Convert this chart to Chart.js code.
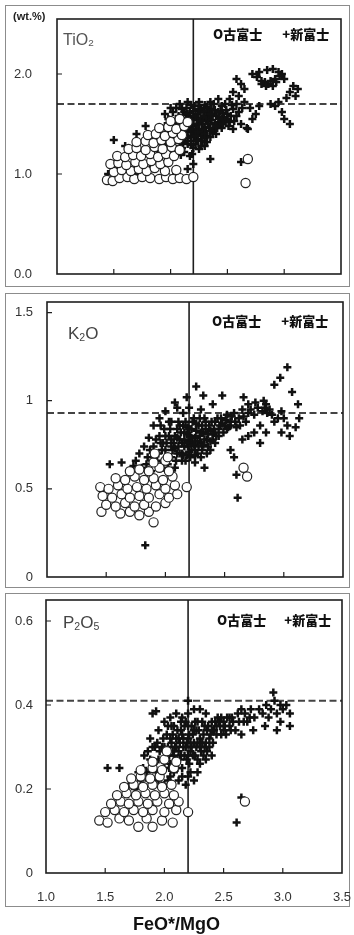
<!DOCTYPE html>
<html>
<head>
<meta charset="utf-8">
<script src="https://cdn.jsdelivr.net/npm/chart.js@4.4.1/dist/chart.umd.min.js"></script>
<style>
  body { margin: 0; background: #fff; width: 354px; height: 935px; position: relative; overflow: hidden; font-family: "Liberation Sans", Arial, sans-serif; }
  .frame { position: absolute; left: 5px; width: 345px; border: 1.5px solid #8c8c8c; box-sizing: border-box; }
  canvas { position: absolute; left: 0; }
  .lbl { position: absolute; color: #555; white-space: nowrap; line-height: 1; }
  .lbl sub { font-size: 0.62em; vertical-align: -0.15em; }
  .leg { position: absolute; font: 900 13px "Noto Sans CJK JP", sans-serif; color: #111; white-space: nowrap; line-height: 1; }
  .leg span { display: inline-block; }
</style>
</head>
<body>
<div class="frame" style="top:5px;height:282px"></div>
<div class="frame" style="top:293px;height:295px"></div>
<div class="frame" style="top:593px;height:314px"></div>

<canvas id="c1" width="354" height="290" style="top:0"></canvas>
<canvas id="c2" width="354" height="300" style="top:290px"></canvas>
<canvas id="c3" width="354" height="345" style="top:590px"></canvas>

<div class="lbl" style="left:13px;top:10px;font:bold 11px 'Liberation Sans',Arial;color:#222">(wt.%)</div>
<div class="lbl" style="left:63px;top:32px;font-size:16px">TiO<sub>2</sub></div>
<div class="lbl" style="left:68px;top:325px;font-size:17px;color:#444">K<sub>2</sub>O</div>
<div class="lbl" style="left:63px;top:614px;font-size:17px;color:#444">P<sub>2</sub>O<sub>5</sub></div>

<div class="leg" style="left:213px;top:27px">O古富士<span style="width:20px"></span>+新富士</div>
<div class="leg" style="left:212px;top:314px">O古富士<span style="width:20px"></span>+新富士</div>
<div class="leg" style="left:217px;top:613px">O古富士<span style="width:18px"></span>+新富士</div>

<div class="lbl" style="left:133px;top:914px;font:bold 18px 'Liberation Sans',Arial;color:#111">FeO*/MgO</div>

<script>
// x axis (FeO*/MgO), shared by the three panels
const xTicks = [1.0, 1.5, 2.0, 2.5, 3.0, 3.5];
const xLabels = ['1.0', '1.5', '2.0', '2.5', '3.0', '3.5'];
const xMarks = [1.5, 2.0, 2.5, 3.0];
const splitX = 2.2;

// TiO2 panel
const tiTicks = [0, 1, 2];
const tiLabels = ['0.0', '1.0', '2.0'];
const tiMax = 2.55;
const tiDash = 1.7;
const tiOld = [
  [1.44,0.94],[1.49,0.93],[1.55,0.96],[1.62,0.97],[1.68,0.95],[1.75,0.97],[1.82,0.96],[1.9,0.95],[1.96,0.97],[2.02,0.95],[2.08,0.96],[2.14,0.95],[2.2,0.97],
  [1.5,1.02],[1.57,1.04],[1.65,1.03],[1.72,1.05],[1.79,1.03],[1.86,1.06],[1.95,1.03],[2.05,1.04],
  [1.47,1.1],[1.54,1.11],[1.61,1.09],[1.69,1.12],[1.76,1.1],[1.83,1.13],[1.91,1.1],[1.98,1.12],
  [1.53,1.18],[1.6,1.17],[1.67,1.19],[1.74,1.18],[1.82,1.2],[1.89,1.17],[1.96,1.2],[2.03,1.18],
  [1.63,1.25],[1.7,1.26],[1.78,1.24],[1.86,1.27],[1.93,1.25],[2.01,1.27],[2.08,1.24],
  [1.7,1.32],[1.78,1.33],[1.85,1.31],[1.92,1.34],[2.0,1.32],[2.07,1.35],
  [1.8,1.39],[1.87,1.4],[1.95,1.38],[2.02,1.41],[2.1,1.39],
  [1.9,1.46],[1.98,1.47],[2.05,1.45],[2.12,1.48],
  [2.0,1.53],[2.08,1.55],[2.15,1.52],
  [2.68,1.15],[2.66,0.91]
];
const tiNew = [
  [2.0,1.45],[2.03,1.52],[2.05,1.4],[2.07,1.58],[2.1,1.47],[2.1,1.36],[2.12,1.62],[2.13,1.53],[2.15,1.42],[2.16,1.57],
  [2.18,1.48],[2.18,1.38],[2.2,1.63],[2.2,1.54],[2.22,1.45],[2.23,1.35],[2.24,1.6],[2.25,1.5],[2.26,1.41],[2.27,1.66],
  [2.28,1.55],[2.3,1.47],[2.3,1.62],[2.32,1.38],[2.33,1.56],[2.35,1.5],[2.36,1.65],[2.38,1.44],[2.4,1.58],[2.42,1.52],
  [2.44,1.63],[2.45,1.46],[2.47,1.57],[2.5,1.6],[2.52,1.52],[2.55,1.65],[2.48,1.7],[2.58,1.58],
  [2.01,1.39],[2.04,1.47],[2.06,1.55],[2.08,1.42],[2.09,1.51],[2.11,1.59],[2.11,1.31],[2.13,1.44],[2.14,1.66],[2.15,1.36],
  [2.16,1.5],[2.17,1.61],[2.19,1.43],[2.19,1.55],[2.21,1.37],[2.21,1.68],[2.23,1.49],[2.24,1.56],[2.25,1.44],[2.26,1.64],
  [2.27,1.38],[2.28,1.5],[2.29,1.58],[2.31,1.43],[2.31,1.53],[2.32,1.67],[2.34,1.46],[2.34,1.6],[2.36,1.54],[2.37,1.41],
  [2.39,1.51],[2.39,1.64],[2.41,1.46],[2.43,1.56],[2.44,1.5],[2.46,1.61],[2.48,1.53],[2.49,1.64],[2.51,1.48],[2.53,1.58],
  [2.54,1.69],[2.56,1.53],[2.6,1.62],[2.63,1.66],[2.58,1.7],
  [2.05,1.5],[2.07,1.44],[2.12,1.4],[2.14,1.48],[2.17,1.45],[2.2,1.5],[2.2,1.4],[2.22,1.58],[2.24,1.42],[2.26,1.53],
  [2.28,1.45],[2.29,1.63],[2.3,1.4],[2.33,1.5],[2.35,1.43],[2.37,1.59],[2.4,1.48],[2.42,1.62],[2.45,1.55],[2.5,1.55],
  [2.46,1.5],[2.15,1.6],[2.1,1.55],[2.25,1.65],[2.35,1.6],[2.05,1.35],[2.1,1.42],[2.18,1.33],[2.22,1.38],[2.3,1.36],
  [1.85,1.35],[1.9,1.42],[1.92,1.3],[1.95,1.48],[1.97,1.38],[2.0,1.25],[2.02,1.33],[2.05,1.2],[2.08,1.28],[2.12,1.22],
  [2.15,1.3],[2.17,1.18],[2.2,1.26],[2.22,1.3],[2.25,1.25],[2.28,1.33],[2.3,1.28],[2.2,1.1],[2.15,1.05],
  [1.88,1.25],[1.93,1.36],[1.96,1.29],[1.98,1.44],[2.01,1.3],[2.03,1.23],[2.06,1.34],[2.09,1.19],[2.1,1.26],[2.13,1.33],
  [2.18,1.29],[2.19,1.2],[2.24,1.33],[2.27,1.28],[2.32,1.32],[2.35,1.37],[2.4,1.4],
  [1.5,1.34],[1.6,1.28],[1.7,1.4],[1.62,1.18],[1.75,1.22],[1.55,1.06],[1.68,1.0],[1.82,1.1],[1.9,1.15],[2.05,1.0],[1.78,1.48],[1.45,1.0],
  [1.95,1.6],[2.0,1.66],[2.08,1.7],[2.15,1.72],[2.25,1.72],[2.35,1.72],[2.42,1.75],[2.52,1.75],
  [1.98,1.55],[2.02,1.62],[2.05,1.66],[2.1,1.65],[2.18,1.69],[2.3,1.69],[2.38,1.7],[2.45,1.68],
  [2.55,1.82],[2.6,1.78],[2.62,1.9],[2.65,1.85],[2.58,1.95],[2.65,1.72],[2.7,1.66],[2.72,1.55],[2.62,1.5],[2.68,1.45],[2.75,1.6],[2.78,1.68],[2.55,1.45],
  [2.72,2.0],[2.78,2.02],[2.85,2.04],[2.9,2.05],[2.95,2.02],[2.98,2.0],[2.8,1.93],[2.86,1.9],[2.9,1.88],[2.93,1.92],[3.0,1.95],[2.76,1.97],
  [3.08,1.88],[3.12,1.85],[3.05,1.82],[3.1,1.78],[2.83,1.92],[2.96,1.98],[2.8,1.9],[2.84,1.88],[2.92,1.95],[2.88,1.93],
  [2.92,1.68],[2.95,1.72],[2.98,1.62],[3.0,1.55],[3.05,1.5],[2.88,1.7],[3.02,1.76],
  [2.35,1.15],[2.62,1.12],[2.67,1.46]
];

// K2O panel
const kTicks = [0, 0.5, 1, 1.5];
const kLabels = ['0', '0.5', '1', '1.5'];
const kMax = 1.56;
const kDash = 0.93;
const kOld = [
  [1.46,0.37],[1.62,0.36],[1.7,0.37],[1.78,0.35],[1.86,0.37],[1.9,0.31],
  [1.5,0.41],[1.58,0.4],[1.66,0.42],[1.74,0.4],[1.82,0.41],[1.92,0.4],[2.0,0.42],
  [1.47,0.46],[1.55,0.45],[1.63,0.47],[1.7,0.45],[1.78,0.46],[1.86,0.45],[1.95,0.47],[2.03,0.45],[2.1,0.47],
  [1.45,0.51],[1.52,0.5],[1.6,0.52],[1.68,0.5],[1.76,0.51],[1.84,0.5],[1.92,0.52],[2.0,0.5],[2.08,0.52],[2.18,0.51],
  [1.58,0.56],[1.66,0.55],[1.74,0.57],[1.82,0.55],[1.9,0.56],[1.98,0.55],[2.06,0.57],
  [1.7,0.6],[1.78,0.61],[1.86,0.6],[1.95,0.62],[2.03,0.6],
  [1.9,0.65],[2.0,0.66],[1.91,0.7],[2.02,0.68],
  [2.66,0.62],[2.69,0.57]
];
const kNew = [
  [2.0,0.72],[2.03,0.8],[2.05,0.68],[2.07,0.76],[2.1,0.84],[2.1,0.7],[2.12,0.78],[2.14,0.66],[2.15,0.86],[2.16,0.74],
  [2.18,0.81],[2.18,0.69],[2.2,0.77],[2.22,0.84],[2.22,0.72],[2.24,0.9],[2.25,0.79],[2.27,0.7],[2.28,0.86],[2.3,0.76],
  [2.32,0.82],[2.33,0.9],[2.35,0.78],[2.37,0.86],[2.4,0.81],[2.42,0.88],[2.45,0.84],[2.47,0.9],[2.5,0.86],[2.52,0.92],
  [2.55,0.88],[2.58,0.93],[2.6,0.85],[2.62,0.9],[2.65,0.95],[2.68,0.88],[2.7,0.93],
  [2.01,0.76],[2.02,0.68],[2.04,0.84],[2.06,0.72],[2.08,0.8],[2.09,0.66],[2.11,0.74],[2.11,0.88],[2.13,0.82],[2.14,0.7],
  [2.16,0.78],[2.17,0.88],[2.17,0.66],[2.19,0.74],[2.19,0.85],[2.21,0.8],[2.21,0.68],[2.23,0.76],[2.23,0.88],[2.25,0.72],
  [2.26,0.83],[2.27,0.77],[2.29,0.8],[2.29,0.9],[2.31,0.72],[2.31,0.86],[2.33,0.78],[2.34,0.84],[2.36,0.81],[2.38,0.77],
  [2.39,0.88],[2.41,0.84],[2.43,0.8],[2.44,0.9],[2.46,0.86],[2.49,0.82],[2.51,0.89],[2.53,0.85],[2.56,0.91],[2.59,0.88],
  [2.63,0.86],[2.66,0.91],
  [2.05,0.78],[2.08,0.73],[2.1,0.79],[2.12,0.7],[2.14,0.76],[2.16,0.82],[2.18,0.76],[2.2,0.71],[2.2,0.84],[2.22,0.79],
  [2.24,0.75],[2.26,0.87],[2.28,0.74],[2.3,0.82],[2.32,0.75],[2.34,0.88],[2.36,0.74],[2.38,0.83],[2.4,0.78],[2.42,0.82],
  [2.45,0.8],[2.48,0.87],[2.52,0.84],[2.55,0.86],[2.05,0.74],[2.12,0.86],[2.15,0.69],[2.25,0.69],[2.0,0.8],[1.96,0.76],[1.92,0.7],
  [1.8,0.62],[1.85,0.68],[1.88,0.6],[1.9,0.74],[1.93,0.66],[1.95,0.8],[1.97,0.72],[1.98,0.62],[1.75,0.66],[1.7,0.6],
  [1.82,0.74],[2.02,0.64],[2.08,0.62],[2.25,0.65],[2.3,0.68],[2.35,0.7],[2.38,0.72],[2.42,0.76],
  [1.84,0.64],[1.87,0.72],[1.89,0.66],[1.92,0.78],[1.94,0.7],[1.96,0.64],[1.98,0.76],[1.99,0.84],[2.03,0.88],[1.78,0.7],
  [1.73,0.63],[1.86,0.79],[1.96,0.86],
  [1.9,0.86],[1.95,0.9],[2.0,0.94],[2.05,0.88],[2.1,0.96],[2.08,0.99],[2.18,1.02],[2.26,1.08],[2.32,1.03],[2.15,0.93],
  [2.2,0.96],[2.3,0.95],[2.4,0.98],[2.48,1.03],
  [2.66,1.02],[2.7,0.98],[2.75,0.92],[2.78,0.96],[2.82,0.94],[2.85,0.98],[2.88,0.95],[2.9,0.92],[2.92,0.88],[2.95,0.9],
  [2.98,0.94],[3.0,0.9],[3.03,0.86],[2.8,0.86],[2.75,0.82],[2.8,0.76],[2.7,0.8],[2.65,0.78],[2.92,1.09],[2.97,1.13],
  [3.03,1.19],[3.07,1.05],[3.12,0.98],[3.13,0.9],[3.1,0.85],[2.98,0.82],[3.05,0.8],[2.85,0.82],
  [2.72,0.95],[2.76,0.99],[2.84,0.96],[2.86,0.93],[2.83,1.0],
  [1.53,0.64],[1.63,0.65],[2.33,0.62],[2.58,0.68],[2.61,0.45],[1.83,0.18],[2.6,0.58],[2.55,0.72]
];

// P2O5 panel
const pTicks = [0, 0.2, 0.4, 0.6];
const pLabels = ['0', '0.2', '0.4', '0.6'];
const pMax = 0.65;
const pDash = 0.41;
const pOld = [
  [1.78,0.11],[1.9,0.11],
  [1.45,0.125],[1.52,0.12],[1.62,0.13],[1.7,0.125],[1.85,0.13],[1.98,0.125],[2.07,0.12],
  [1.5,0.145],[1.58,0.15],[1.66,0.145],[1.74,0.15],[1.82,0.145],[1.9,0.15],[2.0,0.145],[2.1,0.15],[2.2,0.145],
  [1.55,0.165],[1.63,0.17],[1.7,0.165],[1.78,0.17],[1.86,0.165],[1.94,0.17],[2.04,0.165],[2.12,0.17],
  [1.6,0.185],[1.68,0.19],[1.76,0.185],[1.84,0.19],[1.92,0.185],[2.0,0.19],[2.08,0.185],
  [1.66,0.205],[1.74,0.21],[1.82,0.205],[1.9,0.21],[1.98,0.205],[2.06,0.21],
  [1.72,0.225],[1.8,0.23],[1.88,0.225],[1.96,0.23],
  [1.8,0.245],[1.9,0.25],[1.98,0.245],[2.08,0.25],
  [1.9,0.265],[2.0,0.27],[2.1,0.265],[2.02,0.29],
  [2.68,0.17]
];
const pNew = [
  [1.95,0.27],[1.98,0.3],[2.0,0.25],[2.02,0.33],[2.04,0.28],[2.06,0.31],[2.08,0.35],[2.1,0.27],[2.1,0.32],[2.12,0.29],
  [2.14,0.34],[2.15,0.25],[2.16,0.3],[2.18,0.36],[2.19,0.27],[2.2,0.32],[2.22,0.29],[2.23,0.35],[2.25,0.31],[2.27,0.34],
  [2.28,0.27],[2.3,0.32],[2.32,0.36],[2.34,0.3],[2.36,0.34],[2.38,0.32],[2.4,0.36],[2.42,0.34],[2.45,0.37],[2.47,0.35],
  [2.5,0.36],[2.52,0.33],[2.55,0.35],[2.57,0.37],[2.6,0.34],
  [1.96,0.29],[1.97,0.24],[1.99,0.32],[2.01,0.27],[2.03,0.3],[2.03,0.35],[2.05,0.26],[2.07,0.33],[2.08,0.28],[2.09,0.3],
  [2.11,0.34],[2.11,0.25],[2.13,0.31],[2.13,0.27],[2.15,0.33],[2.17,0.28],[2.17,0.35],[2.19,0.31],[2.21,0.33],[2.21,0.26],
  [2.23,0.3],[2.24,0.33],[2.26,0.28],[2.26,0.36],[2.28,0.31],[2.29,0.34],[2.31,0.29],[2.33,0.33],[2.35,0.31],[2.37,0.35],
  [2.39,0.33],[2.41,0.31],[2.43,0.36],[2.44,0.33],[2.46,0.36],[2.48,0.33],[2.51,0.35],[2.53,0.37],[2.56,0.34],[2.58,0.36],
  [2.63,0.36],[2.67,0.36],[2.72,0.37],
  [2.0,0.3],[2.02,0.28],[2.05,0.32],[2.07,0.29],[2.09,0.26],[2.1,0.3],[2.12,0.32],[2.14,0.28],[2.16,0.32],[2.18,0.3],
  [2.2,0.28],[2.22,0.31],[2.24,0.28],[2.25,0.34],[2.27,0.3],[2.3,0.3],[2.32,0.31],[2.34,0.35],[2.36,0.29],[2.4,0.34],
  [2.44,0.35],[2.48,0.37],[2.5,0.34],[2.55,0.37],[1.98,0.27],[2.04,0.25],[2.06,0.35],[2.14,0.36],[2.2,0.35],[2.28,0.36],
  [1.85,0.24],[1.88,0.27],[1.9,0.22],[1.92,0.3],[1.8,0.22],[1.75,0.2],[1.7,0.21],[1.83,0.28],[1.95,0.22],[2.0,0.21],
  [2.05,0.23],[2.12,0.22],[2.18,0.21],[2.22,0.24],[2.25,0.22],[2.3,0.26],[2.35,0.27],[2.4,0.28],[1.88,0.32],[1.95,0.34],
  [2.0,0.36],[2.05,0.37],[2.1,0.38],[2.15,0.37],[2.2,0.38],
  [1.82,0.25],[1.86,0.29],[1.87,0.22],[1.91,0.26],[1.93,0.24],[1.94,0.31],[1.9,0.3],[1.78,0.24],[1.98,0.2],[2.03,0.22],
  [2.08,0.24],[2.15,0.23],[2.2,0.23],[2.28,0.24],[2.33,0.28],[2.38,0.3],
  [2.2,0.41],[2.25,0.39],[2.3,0.39],[2.35,0.38],[2.62,0.38],[2.65,0.39],[2.68,0.38],[2.7,0.36],[2.73,0.39],[2.76,0.37],
  [2.8,0.39],[2.83,0.38],[2.86,0.4],[2.88,0.37],[2.9,0.39],[2.93,0.41],[2.95,0.38],[2.98,0.4],[3.0,0.39],[3.03,0.4],
  [3.06,0.38],[2.92,0.43],[2.95,0.34],[3.06,0.35],[2.98,0.36],[2.85,0.35],[2.75,0.34],[2.65,0.33],
  [1.93,0.385],[1.9,0.38],[1.52,0.25],[1.62,0.25],[2.61,0.12],[2.65,0.18]
];

const toXY = arr => arr.map(p => ({ x: p[0], y: p[1] }));

const boxPlugin = {
  id: 'box',
  afterDatasetsDraw(chart, args, opts) {
    const { ctx, chartArea: a, scales: { x, y } } = chart;
    ctx.save();
    ctx.strokeStyle = '#1e1e1e';
    ctx.lineWidth = 1.6;
    ctx.strokeRect(a.left, a.top, a.right - a.left, a.bottom - a.top);
    ctx.lineWidth = 1.2;
    ctx.beginPath();
    xMarks.forEach(v => {
      const px = x.getPixelForValue(v);
      ctx.moveTo(px, a.bottom);
      ctx.lineTo(px, a.bottom - 5);
    });
    opts.yMarks.forEach(v => {
      const py = y.getPixelForValue(v);
      ctx.moveTo(a.left, py);
      ctx.lineTo(a.left + 5, py);
    });
    ctx.stroke();
    ctx.restore();
  }
};

function makePanel(id, p) {
  new Chart(document.getElementById(id), {
    type: 'scatter',
    data: {
      datasets: [
        { data: toXY(p.old), pointStyle: 'circle', pointRadius: 4.6, borderWidth: 1.2,
          borderColor: '#222', backgroundColor: '#fff', order: 0 },
        { data: toXY(p.young), pointStyle: 'cross', pointRadius: 4, borderWidth: 2.5,
          borderColor: '#111', order: 1 },
        { data: [{ x: splitX, y: 0 }, { x: splitX, y: p.max }], showLine: true, pointRadius: 0,
          borderColor: '#1e1e1e', borderWidth: 1.6, order: 2 },
        { data: [{ x: 1.0, y: p.dash }, { x: 3.5, y: p.dash }], showLine: true, pointRadius: 0,
          borderColor: '#444', borderWidth: 2, borderDash: [7, 3.5], order: 3 }
      ]
    },
    options: {
      responsive: false,
      animation: false,
      devicePixelRatio: 1,
      layout: { padding: { top: p.padTop, right: p.padRight, left: 0, bottom: 0 } },
      plugins: { legend: { display: false }, tooltip: { enabled: false }, box: { yMarks: p.yMarks } },
      scales: {
        x: {
          type: 'linear', min: 1.0, max: 3.5,
          grid: { display: false, drawTicks: false },
          border: { display: false },
          afterBuildTicks: s => { s.ticks = xTicks.map(v => ({ value: v })); },
          afterFit: s => { s.height = p.xHeight; s.paddingLeft = 0; s.paddingRight = 0; },
          ticks: { display: p.showX, padding: 17, color: '#333',
            font: { family: 'Liberation Sans', size: 13 },
            callback: (v, i) => xLabels[i] }
        },
        y: {
          type: 'linear', min: 0, max: p.max,
          grid: { display: false, drawTicks: false },
          border: { display: false },
          afterBuildTicks: s => { s.ticks = p.ticks.map(v => ({ value: v })); },
          afterFit: s => { s.width = p.yWidth; s.paddingTop = 0; s.paddingBottom = 0; },
          ticks: { padding: p.labelPad, color: '#333',
            font: { family: 'Liberation Sans', size: 13 },
            callback: (v, i) => p.labels[i] }
        }
      }
    },
    plugins: [boxPlugin]
  });
}

makePanel('c1', { old: tiOld, young: tiNew, max: tiMax, dash: tiDash, ticks: tiTicks, labels: tiLabels,
  yMarks: [1, 2], padTop: 19, padRight: 13, xHeight: 16, yWidth: 57, labelPad: 25, showX: false });
makePanel('c2', { old: kOld, young: kNew, max: kMax, dash: kDash, ticks: kTicks, labels: kLabels,
  yMarks: [0.5, 1, 1.5], padTop: 12, padRight: 11, xHeight: 13, yWidth: 47, labelPad: 14, showX: false });
makePanel('c3', { old: pOld, young: pNew, max: pMax, dash: pDash, ticks: pTicks, labels: pLabels,
  yMarks: [0.2, 0.4, 0.6], padTop: 10, padRight: 12, xHeight: 62, yWidth: 46, labelPad: 13, showX: true });
</script>
</body>
</html>
